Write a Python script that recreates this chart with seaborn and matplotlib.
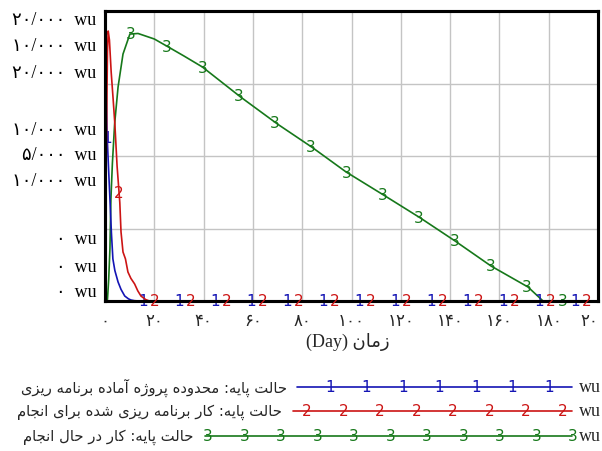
import numpy as np
import pandas as pd
import seaborn as sns
import matplotlib.pyplot as plt

# series (time in days, values in wu)
t_blue = [0, 0.4, 0.8, 1.4, 2, 2.6, 3.2, 4, 5.3, 6.5, 8, 9.5, 10.5, 12, 14, 200]
v_blue = [20000, 15500, 11650, 9300, 7030, 4700, 2900, 2100, 1310, 800, 345, 150, 70, 20, 0, 0]

t_red = [0, 0.5, 1, 1.3, 1.8, 2.5, 3.3, 4, 4.9, 6, 6.5, 7.3, 8.3, 9.3, 10.5, 12, 13.3, 14.6, 16.5, 18, 200]
v_red = [0, 5000, 8600, 9310, 9000, 7900, 6960, 6100, 4655, 3400, 2380, 1690, 1450, 1000, 780, 590, 350, 170, 50, 0, 0]

t_green = [0, 1, 1.5, 2, 2.4, 3, 3.9, 5.3, 7.3, 10.1, 13.4, 20, 25, 32, 39.5, 55, 70, 84,
           97.8, 113, 128, 142, 156.6, 171.6, 177.7, 200]
v_green = [0, 100, 1500, 3600, 7030, 9500, 12200, 14760, 17030, 18410, 18450, 18070, 17586, 16900,
           16140, 14070, 12200, 10600, 8900, 7310, 5720, 4140, 2414, 965, 0, 0]

x_ticks = [0, 20, 40, 60, 80, 100, 120, 140, 160, 180, 200]
x_tick_labels = ['۰', '۲۰', '۴۰', '۶۰', '۸۰', '۱۰۰', '۱۲۰', '۱۴۰', '۱۶۰', '۱۸۰', '۲۰']

labels_top = ['۲۰/۰۰۰  wu', '۱۰/۰۰۰  wu', '۲۰/۰۰۰  wu']
labels_mid = ['۱۰/۰۰۰  wu', '۵/۰۰۰  wu', '۱۰/۰۰۰  wu']
labels_bot = ['۰  wu', '۰  wu', '۰  wu']

legend_names = ['حالت پایه: محدوده پروژه آماده برنامه ریزی',
                'حالت پایه: کار برنامه ریزی شده برای انجام',
                'حالت پایه: کار در حال انجام']

BLUE = '#1414b4'
RED = '#cc1414'
GREEN = '#16781a'

# small Arabic/Persian shaper (matplotlib does no shaping or bidi)
FORMS = {
    'ا': ('\uFE8D', '\uFE8E', None, None),
    'آ': ('\uFE81', '\uFE82', None, None),
    'د': ('\uFEA9', '\uFEAA', None, None),
    'ر': ('\uFEAD', '\uFEAE', None, None),
    'ز': ('\uFEAF', '\uFEB0', None, None),
    'ژ': ('\uFB8A', '\uFB8B', None, None),
    'و': ('\uFEED', '\uFEEE', None, None),
    'ب': ('\uFE8F', '\uFE90', '\uFE91', '\uFE92'),
    'پ': ('\uFB56', '\uFB57', '\uFB58', '\uFB59'),
    'ت': ('\uFE95', '\uFE96', '\uFE97', '\uFE98'),
    'ج': ('\uFE9D', '\uFE9E', '\uFE9F', '\uFEA0'),
    'ح': ('\uFEA1', '\uFEA2', '\uFEA3', '\uFEA4'),
    'ش': ('\uFEB5', '\uFEB6', '\uFEB7', '\uFEB8'),
    'ک': ('\uFB8E', '\uFB8F', '\uFB90', '\uFB91'),
    'ل': ('\uFEDD', '\uFEDE', '\uFEDF', '\uFEE0'),
    'م': ('\uFEE1', '\uFEE2', '\uFEE3', '\uFEE4'),
    'ن': ('\uFEE5', '\uFEE6', '\uFEE7', '\uFEE8'),
    'ه': ('\uFEE9', '\uFEEA', '\uFEEB', '\uFEEC'),
    'ی': ('\uFBFC', '\uFBFD', '\uFBFE', '\uFBFF'),
}


def shape(s):
    out = []
    for i, c in enumerate(s):
        if c not in FORMS:
            out.append(c)
            continue
        prev_join = i > 0 and s[i - 1] in FORMS and FORMS[s[i - 1]][2] is not None
        next_join = i < len(s) - 1 and s[i + 1] in FORMS and FORMS[c][2] is not None
        if prev_join and next_join:
            out.append(FORMS[c][3])
        elif prev_join:
            out.append(FORMS[c][1])
        elif next_join:
            out.append(FORMS[c][2])
        else:
            out.append(FORMS[c][0])
    return ''.join(reversed(out))


sns.set_style('white')
plt.rcParams['font.family'] = ['Liberation Serif', 'DejaVu Sans']

fig = plt.figure(figsize=(6.02, 4.52), dpi=100)
ax = fig.add_axes([105 / 602, 1 - 302 / 452, 493 / 602, 290 / 452])
ax2 = ax.twinx()

df_b = pd.DataFrame({'t': t_blue, 'v': v_blue})
df_r = pd.DataFrame({'t': t_red, 'v': v_red})
df_g = pd.DataFrame({'t': t_green, 'v': v_green})

sns.lineplot(data=df_g, x='t', y='v', ax=ax, color=GREEN, lw=1.2, sort=False, estimator=None)
sns.lineplot(data=df_b, x='t', y='v', ax=ax, color=BLUE, lw=1.2, sort=False, estimator=None)
sns.lineplot(data=df_r, x='t', y='v', ax=ax2, color=RED, lw=1.2, sort=False, estimator=None)

ax.set_xlim(0, 200)
ax.set_ylim(0, 20000)
ax2.set_ylim(0, 10000)
ax2.set_yticks([])
ax2.set_ylabel('')
ax.set_ylabel('')
ax.set_xlabel('')

# number markers along each line, Vensim style
step = 14.6
for times, vals, axis, start, col, lab in [(t_blue, v_blue, ax, 0.9, BLUE, '1'),
                                           (t_red, v_red, ax2, 5.7, RED, '2'),
                                           (t_green, v_green, ax, 10.6, GREEN, '3')]:
    for tm in np.arange(start, 200, step):
        axis.text(tm, np.interp(tm, times, vals), lab, color=col, fontsize=11,
                  family='DejaVu Sans', ha='center', va='center', zorder=5)

ax.set_xticks(x_ticks)
ax.set_xticklabels(x_tick_labels, fontsize=12, family=['DejaVu Sans'])
ax.get_xticklabels()[-1].set_ha('right')
ax.tick_params(axis='x', length=0, pad=7)
ax.set_yticks([0, 5000, 10000, 15000, 20000])
ax.set_yticklabels([])
ax.tick_params(axis='y', length=0)
ax.grid(True, color='#c4c4c4', lw=1)
ax.set_axisbelow(True)
for a in (ax, ax2):
    for sp in a.spines.values():
        sp.set_color('black')
        sp.set_linewidth(2.2)

# stacked y labels (one per series)
for labs, yv, offs in [(labels_top, 20000, [-6, -25, -44]),
                       (labels_mid, 10000, [19, 1, -18]),
                       (labels_bot, 0, [45, 25, 7])]:
    for lab, off in zip(labs, offs):
        ax.annotate(lab, xy=(0, yv), xycoords=('axes fraction', 'data'),
                    xytext=(-6, off), textcoords='offset points', ha='right', va='center',
                    fontsize=13, color='black')

fig.text(348 / 602, 1 - 342 / 452, '(Day) ' + shape('زمان'), ha='center', va='center',
         fontsize=13)

# legend below the chart
lg = fig.add_axes([0, 0, 1, 100 / 452])
lg.set_xlim(0, 602)
lg.set_ylim(452, 352)
lg.axis('off')
rows = [(388, 287, 297, 330, 7, BLUE, '1'),
        (412, 282, 293, 307, 8, RED, '2'),
        (437, 193, 205, 208, 11, GREEN, '3')]
for (y, tx, x0, m0, n, col, lab), name in zip(rows, legend_names):
    lg.text(tx, y, shape(name), ha='right', va='center', fontsize=10.6, family='DejaVu Sans')
    lg.plot([x0, 572], [y, y], color=col, lw=1.2)
    for k in range(n):
        lg.text(m0 + k * 36.5, y, lab, color=col, fontsize=11, family='DejaVu Sans',
                ha='center', va='center')
    lg.text(579, y, 'wu', ha='left', va='center', fontsize=13)

fig.savefig('out.png', dpi=100)
